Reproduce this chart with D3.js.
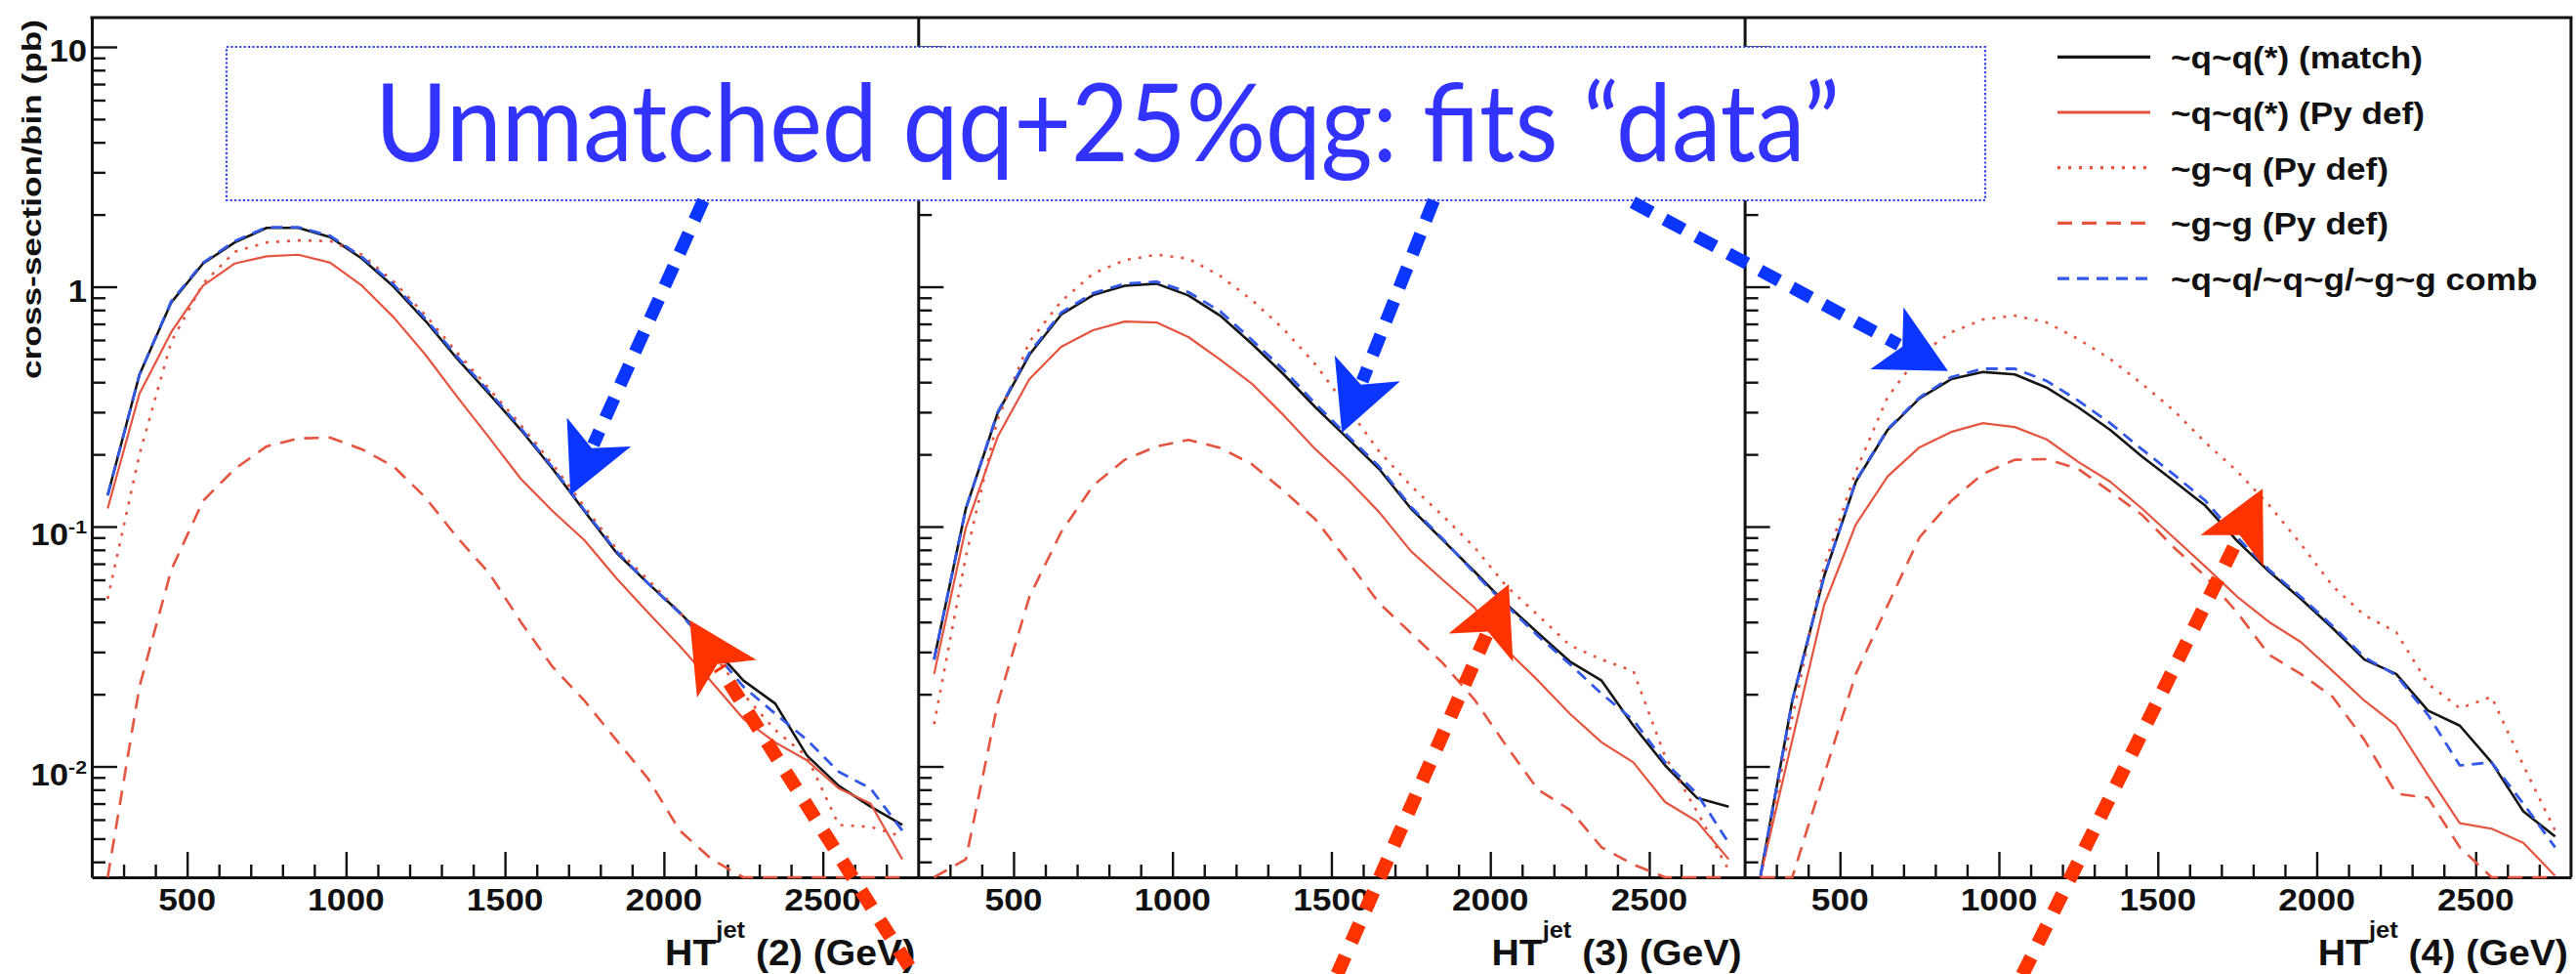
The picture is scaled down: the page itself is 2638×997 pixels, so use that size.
<!DOCTYPE html>
<html><head><meta charset="utf-8">
<script src="https://cdn.jsdelivr.net/npm/d3@7"></script>
<style>html,body{margin:0;padding:0;background:#fff;} svg{display:block;}</style>
</head><body>
<svg id="chart" width="2638" height="997"></svg>
<script>
// ---------------- DATA ----------------
const htBins = [250,350,450,550,650,750,850,950,1050,1150,1250,1350,1450,1550,1650,1750,1850,1950,2050,2150,2250,2350,2450,2550,2650,2750];

// Panel HT(2)
const matchHT2 = [0.135,0.43,0.86,1.25,1.53,1.76,1.76,1.61,1.31,1.0,0.72,0.50,0.358,0.253,0.174,0.116,0.078,0.058,0.0438,0.032,0.0228,0.0183,0.0111,0.0083,0.0068,0.0057];
const pydefHT2 = [0.119,0.358,0.647,1.01,1.25,1.34,1.36,1.26,1.01,0.745,0.52,0.347,0.235,0.158,0.116,0.0877,0.061,0.0438,0.0318,0.0225,0.0158,0.0126,0.0106,0.0081,0.0070,0.0041];
const gqHT2    = [0.050,0.20,0.59,1.03,1.40,1.53,1.56,1.55,1.36,1.05,0.76,0.53,0.375,0.265,0.182,0.121,0.081,0.060,0.044,0.030,0.020,0.0142,0.011,0.0057,0.0056,0.0051];
const ggHT2    = [0.0033,0.0215,0.066,0.128,0.174,0.216,0.233,0.235,0.21,0.178,0.132,0.090,0.064,0.040,0.026,0.0188,0.0129,0.0089,0.0054,0.0041,0.001,0.001,0.001,0.001,0.001,0.001];
const combHT2  = [0.135,0.43,0.87,1.26,1.55,1.77,1.77,1.63,1.33,1.02,0.735,0.51,0.365,0.257,0.176,0.117,0.079,0.058,0.0435,0.031,0.0215,0.0166,0.0129,0.0095,0.0081,0.0054];

// Panel HT(3)
const matchHT3 = [0.0279,0.119,0.297,0.521,0.766,0.923,1.01,1.03,0.92,0.758,0.578,0.431,0.314,0.234,0.174,0.119,0.088,0.065,0.0476,0.036,0.0274,0.0228,0.0148,0.0101,0.0074,0.0068];
const pydefHT3 = [0.0243,0.099,0.237,0.412,0.562,0.659,0.716,0.71,0.617,0.497,0.394,0.291,0.21,0.158,0.115,0.079,0.060,0.046,0.0307,0.0228,0.0166,0.0126,0.0104,0.0071,0.0059,0.0041];
const gqHT3    = [0.015,0.075,0.28,0.59,0.87,1.135,1.29,1.36,1.31,1.11,0.88,0.665,0.474,0.314,0.206,0.148,0.111,0.082,0.0565,0.0427,0.032,0.0279,0.025,0.011,0.0065,0.0037];
const ggHT3    = [0.003,0.0041,0.0183,0.051,0.095,0.148,0.19,0.216,0.23,0.213,0.182,0.141,0.107,0.072,0.048,0.036,0.027,0.019,0.0122,0.008,0.0066,0.0046,0.0039,0.001,0.001,0.001];
const combHT3  = [0.0279,0.119,0.30,0.53,0.78,0.94,1.03,1.05,0.95,0.79,0.60,0.45,0.325,0.24,0.178,0.121,0.089,0.064,0.047,0.035,0.0267,0.0201,0.0156,0.0104,0.0077,0.0048];

// Panel HT(4)
const matchHT4 = [0.0035,0.0188,0.062,0.154,0.253,0.342,0.412,0.441,0.431,0.38,0.314,0.253,0.196,0.155,0.122,0.087,0.065,0.050,0.0377,0.0279,0.0243,0.0171,0.0148,0.0104,0.0065,0.0051];
const pydefHT4 = [0.0035,0.0129,0.047,0.102,0.162,0.214,0.248,0.27,0.26,0.231,0.186,0.154,0.119,0.090,0.068,0.051,0.040,0.033,0.025,0.0188,0.0148,0.0092,0.0058,0.0055,0.0048,0.0035];
const gqHT4    = [0.003,0.016,0.068,0.17,0.347,0.52,0.646,0.73,0.758,0.71,0.605,0.50,0.394,0.305,0.224,0.17,0.123,0.0846,0.0565,0.0427,0.0363,0.0221,0.0175,0.0195,0.0101,0.0054];
const ggHT4    = [0.001,0.0034,0.0092,0.0243,0.047,0.090,0.128,0.166,0.19,0.191,0.174,0.14,0.112,0.082,0.062,0.0438,0.0292,0.0243,0.0195,0.0129,0.0077,0.0074,0.0046,0.001,0.001,0.001];
const combHT4  = [0.0035,0.0188,0.062,0.155,0.255,0.345,0.42,0.455,0.455,0.405,0.335,0.27,0.21,0.165,0.128,0.09,0.066,0.051,0.0385,0.0285,0.024,0.0164,0.0101,0.0104,0.0070,0.0046];

const seriesNames = ["~q~q(*) (match)", "~q~q(*) (Py def)", "~g~q (Py def)", "~g~g (Py def)", "~q~q/~q~g/~g~g comb"];
const panelJets = ["2", "3", "4"];
const majorX = [500, 1000, 1500, 2000, 2500];
const minorX = [300,400,600,700,800,900,1100,1200,1300,1400,1600,1700,1800,1900,2100,2200,2300,2400,2600,2700];
const majorY = [0.01, 0.1, 1, 10];
const yLabelBase = ["10", "10", "1", "10"];
const yLabelExp  = ["-2", "-1", "", ""];
const titleText = "Unmatched qq+25%qg: fits \u201Cdata\u201D";
const yTitle = "cross-section/bin (pb)";

// annotation arrows, in each panel's data coordinates [HT, value]
const blueArrowPanel = [0, 1, 2];
const blueArrowFrom = [[2124, 2.29], [1822, 2.29], [-152, 2.25]];
const blueArrowTo   = [[1706, 0.135], [1533, 0.246], [840, 0.445]];
const redArrowPanel = [0, 1, 2];
const redArrowFrom  = [[2831, 0.0011], [1474, 0.001], [1025, 0.001]];
const redArrowTo    = [[2081, 0.0407], [2058, 0.0575], [1830, 0.144]];

const panelSeries = [
  [matchHT2, pydefHT2, gqHT2, ggHT2, combHT2],
  [matchHT3, pydefHT3, gqHT3, ggHT3, combHT3],
  [matchHT4, pydefHT4, gqHT4, ggHT4, combHT4]
];

// ---------------- STYLE / LAYOUT ----------------
const FONT = "'Liberation Sans', Arial, Helvetica, sans-serif";
const RED = "#e5543f", BLUE = "#3158e6", BLACK = "#151515";
const styles = [
  {stroke: BLACK, width: 2.6, dash: null},
  {stroke: RED,   width: 2.2, dash: null},
  {stroke: RED,   width: 2.6, dash: "3,8"},
  {stroke: RED,   width: 2.6, dash: "15,10"},
  {stroke: BLUE,  width: 2.8, dash: "12,8"}
];

const frameTop = 18, frameBottom = 898, frameLeft = 94, panelW = 846.3;
const panelLefts = [0, 1, 2].map(i => frameLeft + i * panelW);
const frameRight = frameLeft + 3 * panelW;
const xScales = panelLefts.map(l => d3.scaleLinear().domain([200, 2800]).range([l, l + panelW]));
const yScale = d3.scaleLog().domain([0.00345, 13.25]).range([frameBottom, frameTop]).clamp(true);
const yFree = yScale.copy().clamp(false);

const svg = d3.select("#chart");
svg.append("rect").attr("width", 2638).attr("height", 997).attr("fill", "#fff");

// ---------------- AXES ----------------
const minorY = yScale.ticks().filter(v => majorY.indexOf(+v.toPrecision(3)) < 0 && Math.abs(Math.log10(v) - Math.round(Math.log10(v))) > 1e-6);

panelLefts.forEach((l, p) => {
  const x = xScales[p];
  const gL = svg.append("g").attr("transform", `translate(${l},0)`);
  gL.call(d3.axisRight(yScale).tickValues(majorY).tickSize(26).tickSizeOuter(0).tickFormat(""));
  const gLm = svg.append("g").attr("transform", `translate(${l},0)`);
  gLm.call(d3.axisRight(yScale).tickValues(minorY).tickSize(14).tickSizeOuter(0).tickFormat(""));
  gLm.select(".domain").remove();

  const gB = svg.append("g").attr("transform", `translate(0,${frameBottom})`);
  gB.call(d3.axisTop(x).tickValues(majorX).tickSize(26).tickSizeOuter(0).tickFormat(""));
  const gBm = svg.append("g").attr("transform", `translate(0,${frameBottom})`);
  gBm.call(d3.axisTop(x).tickValues(minorX).tickSize(13).tickSizeOuter(0).tickFormat(""));
  gBm.select(".domain").remove();

  // x tick labels
  majorX.forEach(v => {
    svg.append("text")
      .attr("transform", `translate(${x(v)},932) scale(1.14,1)`)
      .attr("text-anchor", "middle")
      .attr("font-family", FONT).attr("font-weight", "bold").attr("font-size", 31)
      .attr("fill", "#111").text(v);
  });

  // x axis title
  const t = svg.append("text")
    .attr("transform", `translate(${l + panelW - 3},988) scale(1.06,1)`)
    .attr("text-anchor", "end")
    .attr("font-family", FONT).attr("font-weight", "bold").attr("font-size", 37).attr("fill", "#111");
  t.append("tspan").text("HT");
  t.append("tspan").attr("font-size", 24).attr("dy", -28).text("jet");
  t.append("tspan").attr("dy", 28).text(` (${panelJets[p]}) (GeV)`);
});

svg.selectAll(".domain").attr("stroke", "#111").attr("stroke-width", 3);
svg.selectAll(".tick line").attr("stroke", "#111").attr("stroke-width", 2.4);

// frame top & right
svg.append("line").attr("x1", frameLeft - 1.5).attr("x2", frameRight + 1.5).attr("y1", frameTop).attr("y2", frameTop)
  .attr("stroke", "#111").attr("stroke-width", 3);
svg.append("line").attr("x1", frameRight).attr("x2", frameRight).attr("y1", frameTop).attr("y2", frameBottom)
  .attr("stroke", "#111").attr("stroke-width", 3);

// y tick labels (first panel)
majorY.forEach((v, i) => {
  const t = svg.append("text")
    .attr("transform", `translate(89,${yScale(v) + (yLabelExp[i] ? 19 : 15)}) scale(1.12,1)`)
    .attr("text-anchor", "end")
    .attr("font-family", FONT).attr("font-weight", "bold").attr("font-size", 31).attr("fill", "#111");
  t.append("tspan").text(yLabelBase[i]);
  if (yLabelExp[i]) t.append("tspan").attr("font-size", 19).attr("dy", -12).text(yLabelExp[i]);
});

// y title
svg.append("text")
  .attr("transform", `translate(42,20) rotate(-90)`)
  .attr("text-anchor", "end")
  .attr("font-family", FONT).attr("font-weight", "bold").attr("font-size", 28).attr("fill", "#111")
  .attr("textLength", 368).attr("lengthAdjust", "spacingAndGlyphs")
  .text(yTitle);

// ---------------- CURVES ----------------
panelSeries.forEach((series, p) => {
  const x = xScales[p];
  const line = d3.line().x((d, i) => x(htBins[i])).y(d => yScale(d));
  series.forEach((vals, s) => {
    const st = styles[s];
    svg.append("path").datum(vals)
      .attr("d", line)
      .attr("fill", "none")
      .attr("stroke", st.stroke)
      .attr("stroke-width", st.width)
      .attr("stroke-linejoin", "round")
      .attr("stroke-dasharray", st.dash);
  });
});

// ---------------- LEGEND ----------------
const legX1 = 2107, legX2 = 2202, legTextX = 2223, legTop = 58.3, legStep = 56.7;
seriesNames.forEach((name, s) => {
  const yy = legTop + s * legStep;
  const st = styles[s];
  svg.append("line").attr("x1", legX1).attr("x2", legX2).attr("y1", yy).attr("y2", yy)
    .attr("stroke", st.stroke).attr("stroke-width", st.width + 0.6).attr("stroke-dasharray", st.dash);
  svg.append("text")
    .attr("transform", `translate(${legTextX},${yy + 12}) scale(1.1,1)`)
    .attr("font-family", FONT).attr("font-weight", "bold").attr("font-size", 32).attr("fill", "#111")
    .text(name);
});

// ---------------- TITLE BOX ----------------
svg.append("rect").attr("x", 232).attr("y", 48).attr("width", 1801).attr("height", 157)
  .attr("fill", "#fff").attr("stroke", "#3344ee").attr("stroke-width", 2.2).attr("stroke-dasharray", "2.2,2.2");
svg.append("text")
  .attr("x", 384).attr("y", 165)
  .attr("font-family", "Lato, 'Open Sans', sans-serif").attr("font-size", 110).attr("fill", "#3333ff")
  .attr("textLength", 1500).attr("lengthAdjust", "spacingAndGlyphs")
  .text(titleText);

// ---------------- ARROWS ----------------
function drawArrow(p0, p1, color, width, dash) {
  const dx = p1[0] - p0[0], dy = p1[1] - p0[1];
  const len = Math.hypot(dx, dy);
  const ux = dx / len, uy = dy / len, px = -uy, py = ux;
  const L = 71, Wd = 36, notch = 18;
  const bx = p1[0] - L * ux, by = p1[1] - L * uy;
  const nx = p1[0] - (L - notch) * ux, ny = p1[1] - (L - notch) * uy;
  svg.append("line").attr("x1", p0[0]).attr("y1", p0[1]).attr("x2", nx - 4 * ux).attr("y2", ny - 4 * uy)
    .attr("stroke", color).attr("stroke-width", width).attr("stroke-dasharray", dash);
  svg.append("path")
    .attr("d", `M${p1[0]},${p1[1]} L${bx + Wd * px},${by + Wd * py} L${nx},${ny} L${bx - Wd * px},${by - Wd * py} Z`)
    .attr("fill", color);
}
blueArrowPanel.forEach((p, i) => {
  const x = xScales[p];
  drawArrow([x(blueArrowFrom[i][0]), yFree(blueArrowFrom[i][1])], [x(blueArrowTo[i][0]), yFree(blueArrowTo[i][1])], "#0a36ff", 13, "22,15");
});
redArrowPanel.forEach((p, i) => {
  const x = xScales[p];
  drawArrow([x(redArrowFrom[i][0]), yFree(redArrowFrom[i][1])], [x(redArrowTo[i][0]), yFree(redArrowTo[i][1])], "#ff3300", 14, "20,16");
});
</script>
</body></html>
